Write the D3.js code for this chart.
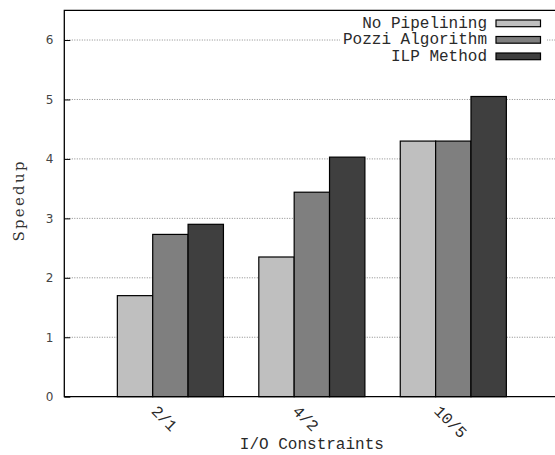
<!DOCTYPE html>
<html>
<head>
<meta charset="utf-8">
<script src="https://cdn.jsdelivr.net/npm/d3@7"></script>
<style>
body { margin: 0; background: #fff; }
.mono { font-family: "Courier New", "Liberation Mono", monospace; font-size: 16px; fill: #2a2a2a; }
.axis text { font-family: "DejaVu Sans", sans-serif; font-size: 12px; fill: #444; }
</style>
</head>
<body>
<svg id="chart" width="555" height="455"></svg>
<script>
// data
const categories = ["2/1", "4/2", "10/5"];
const series = ["No Pipelining", "Pozzi Algorithm", "ILP Method"];
const noPipelining = [1.70, 2.35, 4.30];
const pozzi = [2.73, 3.44, 4.30];
const ilp = [2.90, 4.03, 5.05];
const yTicks = [0, 1, 2, 3, 4, 5, 6];

const colors = ["#bfbfbf", "#7f7f7f", "#3f3f3f"];
const values = [noPipelining, pozzi, ilp];

const margin = { top: 10.3, left: 64.3, bottom: 396.7, right: 559.4 };

const svg = d3.select("#chart");

const x = d3.scalePoint()
  .domain(categories)
  .range([margin.left, margin.right])
  .padding(0.75);

const xInner = d3.scaleBand()
  .domain(series)
  .range([-x.step() * 0.375, x.step() * 0.375]);

const y = d3.scaleLinear().domain([0, 6.5]).range([margin.bottom, margin.top]);

// dotted grid lines
svg.append("g")
  .selectAll("line")
  .data(yTicks.filter(d => d > 0))
  .enter()
  .append("line")
  .attr("x1", margin.left)
  .attr("x2", margin.right)
  .attr("y1", d => y(d))
  .attr("y2", d => y(d))
  .attr("stroke", "#888")
  .attr("stroke-width", 1)
  .attr("stroke-dasharray", "1,1.5");

// bars
const groups = svg.append("g")
  .selectAll("g")
  .data(series)
  .enter()
  .append("g")
  .attr("fill", (d, i) => colors[i]);

groups.selectAll("rect")
  .data((s, si) => categories.map((c, ci) => ({ c: c, s: s, v: values[si][ci] })))
  .enter()
  .append("rect")
  .attr("x", d => x(d.c) + xInner(d.s))
  .attr("width", xInner.bandwidth())
  .attr("y", d => y(d.v))
  .attr("height", d => y(0) - y(d.v))
  .attr("stroke", "#000")
  .attr("stroke-width", 1.2);

// y axis (ticks pointing inward like gnuplot)
const yAxis = svg.append("g")
  .attr("class", "axis")
  .attr("transform", "translate(" + margin.left + ",0)")
  .call(d3.axisLeft(y).tickValues(yTicks).tickFormat(d3.format("d"))
    .tickSizeInner(-6).tickSizeOuter(0).tickPadding(11));
yAxis.select(".domain").remove();
yAxis.selectAll(".tick line").attr("stroke", "#000");

// frame (right side falls outside the picture)
svg.append("path")
  .attr("d", "M" + margin.right + "," + margin.top + "H" + margin.left + "V" + margin.bottom + "H" + margin.right)
  .attr("fill", "none")
  .attr("stroke", "#000")
  .attr("stroke-width", 1.3);

// x tick labels, rotated
svg.append("g")
  .selectAll("text")
  .data(categories)
  .enter()
  .append("text")
  .attr("class", "mono")
  .attr("transform", d => "translate(" + (x(d) - 20) + ",412) rotate(45)")
  .text(d => d);

// axis titles
svg.append("text")
  .attr("class", "mono")
  .attr("x", (margin.left + margin.right) / 2)
  .attr("y", 449)
  .attr("text-anchor", "middle")
  .text("I/O Constraints");

svg.append("text")
  .attr("transform", "translate(24,201.5) rotate(-90)")
  .attr("text-anchor", "middle")
  .style("font-family", "'DejaVu Serif', serif")
  .style("font-size", "15px")
  .attr("fill", "#333")
  .attr("textLength", 80)
  .attr("lengthAdjust", "spacing")
  .text("Speedup");

// legend with opaque background
const legend = svg.append("g");
legend.append("rect")
  .attr("x", 340)
  .attr("y", 14)
  .attr("width", 207)
  .attr("height", 50)
  .attr("fill", "#fff");

const rows = legend.selectAll("g")
  .data(series)
  .enter()
  .append("g")
  .attr("transform", (d, i) => "translate(0," + (23.3 + i * 16.5) + ")");

rows.append("text")
  .attr("class", "mono")
  .attr("x", 487)
  .attr("y", 4.5)
  .attr("text-anchor", "end")
  .text(d => d);

rows.append("rect")
  .attr("x", 496)
  .attr("y", -3.3)
  .attr("width", 44.5)
  .attr("height", 6.7)
  .attr("fill", (d, i) => colors[i])
  .attr("stroke", "#000")
  .attr("stroke-width", 1.2);
</script>
</body>
</html>
